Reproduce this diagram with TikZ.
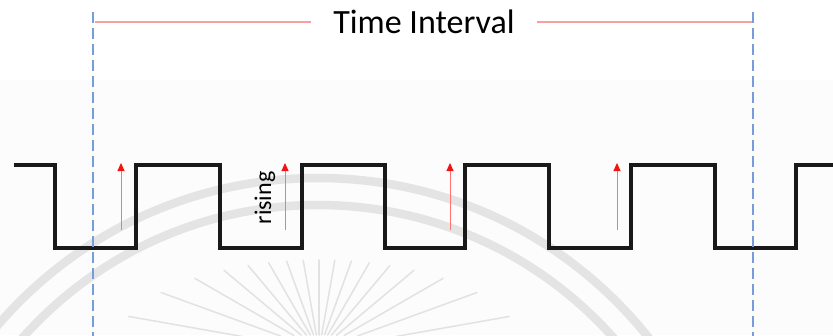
\documentclass[tikz,border=0pt]{standalone}
\usepackage{fontspec}
\setmainfont{Carlito}
\usetikzlibrary{arrows.meta}

\definecolor{markblue}{RGB}{118,156,218}
\definecolor{spanred}{RGB}{246,160,160}
\definecolor{edgered}{RGB}{255,115,115}
\definecolor{tipred}{RGB}{240,20,20}
\definecolor{sealgray}{RGB}{228,228,228}
\definecolor{raygray}{RGB}{226,226,226}
\definecolor{paper}{RGB}{252,252,252}

\tikzset{
  signal/.style={line width=3.4pt, black!90, line join=miter},
  marker/.style={markblue, line width=2pt, dash pattern=on 11pt off 5pt},
  span/.style={spanred, line width=1.6pt},
  edgearrow/.style={edgered, line width=1pt,
    -{Triangle[length=8pt,width=7pt,fill=tipred,color=tipred]}},
  sealband/.style={sealgray, line width=8.5pt},
  sealray/.style={raygray, line width=1.5pt, line cap=round},
}

\begin{document}
\begin{tikzpicture}[x=1pt,y=-1pt]
  \useasboundingbox (0,0) rectangle (833,335);
  \fill[white] (0,0) rectangle (833,335);
  \fill[paper] (0,80) rectangle (833,335);

  % faint seal in the background
  \begin{scope}
    \clip (0,0) rectangle (833,335);
    \draw[sealband] (318,600) circle[radius=422];
    \draw[sealband] (318,600) circle[radius=395];
    \foreach \a in {10,20,...,170} {
      % ray ends on two ellipses (radii in hundreds of pt)
      \pgfmathsetmacro{\ro}{100/sqrt((cos(\a)^2)/(2.05^2)+(sin(\a)^2)/(0.9^2))}
      \pgfmathsetmacro{\ri}{100/sqrt((cos(\a)^2)/(1.05^2)+(sin(\a)^2)/(0.15^2))}
      \pgfmathsetmacro{\xi}{319+\ri*cos(\a)}
      \pgfmathsetmacro{\yi}{350-\ri*sin(\a)}
      \pgfmathsetmacro{\xo}{319+\ro*cos(\a)}
      \pgfmathsetmacro{\yo}{350-\ro*sin(\a)}
      \draw[sealray] (\xi,\yi) -- (\xo,\yo);
    }
  \end{scope}

  % square wave
  \draw[signal] (14,165) -- (55,165) -- (55,248) -- (136,248) -- (136,165)
    -- (220,165) -- (220,248) -- (302,248) -- (302,165)
    -- (385,165) -- (385,248) -- (465,248) -- (465,165)
    -- (549,165) -- (549,248) -- (631,248) -- (631,165)
    -- (715,165) -- (715,248) -- (796,248) -- (796,165) -- (834,165);

  % interval markers
  \coordinate (mA top) at (93,12);
  \coordinate (mA bot) at (93,336);
  \coordinate (mB top) at (753,12);
  \coordinate (mB bot) at (753,336);
  \draw[marker] (mA top) -- (mA bot);
  \draw[marker] (mB top) -- (mB bot);

  % interval label with its span line
  \node[font=\fontsize{34}{36}\selectfont, inner xsep=22pt, inner ysep=0pt]
    (label) at (424,22) {Time Interval};
  \coordinate (sA) at (95,22);
  \coordinate (sB) at (752,22);
  \draw[span] (sA) -- (label.west);
  \draw[span] (label.east) -- (sB);

  % rising-edge arrows
  \foreach \x/\n in {121/1,285/2,450/3,617/4} {
    \coordinate (r\n a) at (\x,230);
    \coordinate (r\n b) at (\x,163);
    \draw[edgearrow] (r\n a) -- (r\n b);
  }
  \node[rotate=90, font=\fontsize{24}{26}\selectfont, inner sep=0pt]
    (rise) at (265,198) {rising};
\end{tikzpicture}
\end{document}
